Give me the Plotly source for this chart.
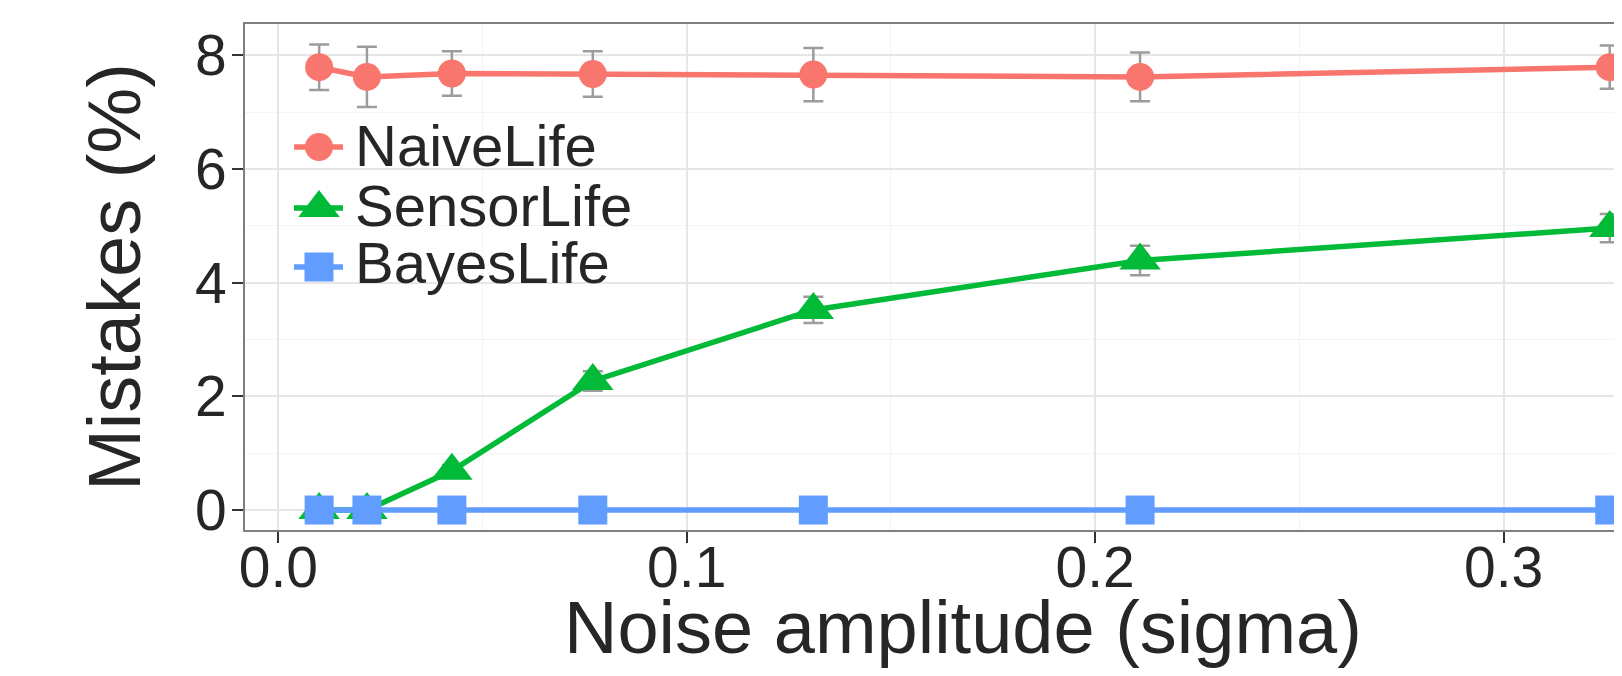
import plotly.graph_objects as go

# ---------------- data ----------------
noise = [0.01, 0.0217, 0.0425, 0.077, 0.131, 0.211, 0.326]

naive = [7.79, 7.62, 7.68, 7.67, 7.66, 7.62, 7.79]
naive_err = [0.40, 0.53, 0.39, 0.40, 0.47, 0.43, 0.38]

sensor = [0.0, 0.0, 0.69, 2.27, 3.52, 4.39, 4.96]
sensor_err = [0.0, 0.0, 0.10, 0.17, 0.23, 0.26, 0.25]

bayes = [0.0, 0.0, 0.0, 0.0, 0.0, 0.0, 0.0]
bayes_err = [0.0, 0.0, 0.0, 0.0, 0.0, 0.0, 0.0]

series_names = ["NaiveLife", "SensorLife", "BayesLife"]
x_tickvals = [0.0, 0.1, 0.2, 0.3]
x_ticktext = ["0.0", "0.1", "0.2", "0.3"]
y_tickvals = [0, 2, 4, 6, 8]
y_ticktext = ["0", "2", "4", "6", "8"]

# ---------------- style ----------------
# the page body keeps its default 8px margin, so the figure is 8px smaller
W, H = 1614, 668
L, R, T, B = 236, 0, 15, 145
FONT = "Liberation Sans, Arial, Helvetica, sans-serif"
TXT = "#262626"
colors = ["#F8766D", "#00BA38", "#619CFF"]
symbols = ["circle", "triangle-up", "square"]
sizes = [28, 36, 29]
ERR = "#9C9C9C"
LW = 5.5

fig = go.Figure()
values = [naive, sensor, bayes]
errs = [naive_err, sensor_err, bayes_err]
for name, ys, es, c, s, sz in zip(series_names, values, errs, colors, symbols, sizes):
    fig.add_trace(go.Scatter(
        x=noise, y=ys, name=name, mode="lines+markers",
        line=dict(color=c, width=LW),
        marker=dict(color=c, symbol=s, size=sz, opacity=1, line=dict(width=0)),
        error_y=dict(type="data", array=es, visible=True, color=ERR,
                     thickness=2.5, width=10),
        showlegend=False,
    ))

# ---------------- legend (drawn manually to keep large keys) ----------------
pw = W - L - R
ph = H - T - B
OFF = 8  # page offset of the figure


def px_x(p):
    return (p - OFF - L) / pw


def px_y(p):
    return (H - B - (p - OFF)) / ph


leg_marker_rows = [147, 208, 267]
leg_text_rows = [145, 205, 262]
key_x0, key_xc, key_x1 = px_x(294), px_x(319), px_x(343)
for name, c, s, sz, row, trow in zip(series_names, colors, symbols, sizes,
                                      leg_marker_rows, leg_text_rows):
    yy = px_y(row)
    fig.add_trace(go.Scatter(
        x=[key_x0, key_xc, key_x1], y=[yy, yy, yy], mode="lines+markers",
        line=dict(color=c, width=LW),
        marker=dict(color=c, symbol=s, size=[0, sz, 0], opacity=1, line=dict(width=0)),
        xaxis="x2", yaxis="y2", showlegend=False, hoverinfo="skip",
        cliponaxis=False,
    ))
    fig.add_annotation(x=px_x(353), y=px_y(trow), xref="paper", yref="paper",
                       text=name, showarrow=False, xanchor="left",
                       yanchor="middle", font=dict(family=FONT, size=58, color=TXT))

# axis titles
fig.add_annotation(x=px_x(962.5), y=px_y(627.7), xref="paper", yref="paper",
                   text="Noise amplitude (sigma)", showarrow=False,
                   xanchor="center", yanchor="middle",
                   font=dict(family=FONT, size=74, color=TXT))
fig.add_annotation(x=px_x(113.8), y=px_y(277), xref="paper", yref="paper",
                   text="Mistakes (%)", showarrow=False, textangle=-90,
                   xanchor="center", yanchor="middle",
                   font=dict(family=FONT, size=74, color=TXT))

# panel border (right side lies beyond the visible canvas, as in the reference)
fig.add_shape(type="rect", xref="paper", yref="paper", x0=0, y0=0, x1=1.05, y1=1,
              line=dict(color="#7F7F7F", width=2), layer="above")

axis_common = dict(
    showline=False, zeroline=False, ticks="outside", ticklen=11, tickwidth=2,
    tickcolor="#333333", gridcolor="#E6E6E6", gridwidth=1.5,
    tickfont=dict(family=FONT, size=57, color=TXT),
)
fig.update_layout(
    width=W, height=H,
    margin=dict(l=L, r=R, t=T, b=B, autoexpand=False),
    paper_bgcolor="white", plot_bgcolor="white",
    xaxis=dict(range=[-0.0084, 0.329], tickvals=x_tickvals, ticktext=x_ticktext,
               ticklabelstandoff=-24,
               minor=dict(dtick=0.05, tick0=0, showgrid=True, gridcolor="#F4F4F4",
                          gridwidth=1, ticks=""),
               **axis_common),
    yaxis=dict(range=[-0.369, 8.568], tickvals=y_tickvals, ticktext=y_ticktext,
               ticklabelstandoff=-6,
               minor=dict(dtick=1, tick0=0, showgrid=True, gridcolor="#F4F4F4",
                          gridwidth=1, ticks=""),
               **axis_common),
    xaxis2=dict(overlaying="x", range=[0, 1], visible=False),
    yaxis2=dict(overlaying="y", range=[0, 1], visible=False),
    showlegend=False,
)

fig.write_html("out.html")
